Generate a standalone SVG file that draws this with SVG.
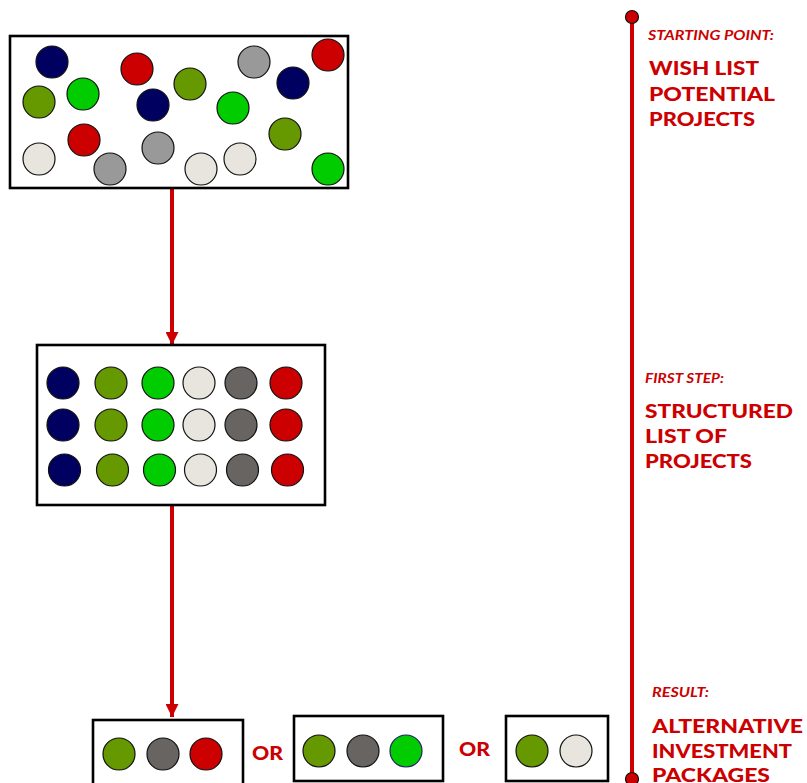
<svg xmlns="http://www.w3.org/2000/svg" width="807" height="783" viewBox="0 0 807 783">
<style>
.box{fill:#fff;stroke:#000;stroke-width:2.6}
circle{stroke:#111;stroke-width:1.2}
.nv{fill:#000060}
.ol{fill:#669900}
.gr{fill:#00CC00}
.lg{fill:#999999}
.wh{fill:#E8E5DF}
.dg{fill:#686462}
.rd{fill:#CC0000}
.lbl{font-family:Lato,"Liberation Sans",sans-serif;font-weight:bold;fill:#CC0000}
.sm{font-size:14px;font-style:italic}
.bg{font-size:19px;font-weight:900}
.conn{stroke:#CC0000;stroke-width:4;fill:none}
</style>
<defs>
<marker id="ah" viewBox="0 0 10 10" refX="10" refY="5" markerWidth="13" markerHeight="13" markerUnits="userSpaceOnUse" orient="auto">
<path d="M0,0 L10,5 L0,10 z" fill="#CC0000"/>
</marker>
</defs>

<g id="connectors">
<line class="conn" x1="172" y1="189" x2="172" y2="345" marker-end="url(#ah)"/>
<line class="conn" x1="172" y1="506" x2="172" y2="717" marker-end="url(#ah)"/>
</g>

<g id="timeline">
<line x1="632" y1="17" x2="632" y2="779" stroke="#CC0000" stroke-width="4"/>
<circle cx="632" cy="17" r="6.5" fill="#CC0000" stroke="none"/>
<circle cx="632" cy="779" r="6.5" fill="#CC0000" stroke="none"/>
</g>

<g id="wishlist">
<rect class="box" x="10" y="36" width="338" height="152"/>
<circle class="nv" cx="52" cy="62" r="16"/>
<circle class="ol" cx="39" cy="102" r="16"/>
<circle class="gr" cx="83" cy="94" r="16"/>
<circle class="rd" cx="137" cy="69" r="16"/>
<circle class="nv" cx="153" cy="105" r="16"/>
<circle class="ol" cx="190" cy="84" r="16"/>
<circle class="lg" cx="254" cy="62" r="16"/>
<circle class="nv" cx="293" cy="83" r="16"/>
<circle class="rd" cx="328" cy="55" r="16"/>
<circle class="gr" cx="233" cy="108" r="16"/>
<circle class="ol" cx="285" cy="134" r="16"/>
<circle class="gr" cx="328" cy="169" r="16"/>
<circle class="wh" cx="39" cy="159" r="16"/>
<circle class="rd" cx="84" cy="140" r="16"/>
<circle class="lg" cx="110" cy="169" r="16"/>
<circle class="lg" cx="158" cy="148" r="16"/>
<circle class="wh" cx="201" cy="169" r="16"/>
<circle class="wh" cx="240" cy="159" r="16"/>
</g>

<g id="structured">
<rect class="box" x="37" y="345" width="288" height="160"/>
<circle class="nv" cx="63" cy="383" r="16"/>
<circle class="ol" cx="111" cy="383" r="16"/>
<circle class="gr" cx="158" cy="383" r="16"/>
<circle class="wh" cx="199" cy="383" r="16"/>
<circle class="dg" cx="241" cy="383" r="16"/>
<circle class="rd" cx="286" cy="383" r="16"/>
<circle class="nv" cx="63" cy="425" r="16"/>
<circle class="ol" cx="111" cy="425" r="16"/>
<circle class="gr" cx="158" cy="425" r="16"/>
<circle class="wh" cx="199" cy="425" r="16"/>
<circle class="dg" cx="241" cy="425" r="16"/>
<circle class="rd" cx="286" cy="425" r="16"/>
<circle class="nv" cx="64.5" cy="470" r="16"/>
<circle class="ol" cx="112.5" cy="470" r="16"/>
<circle class="gr" cx="159.5" cy="470" r="16"/>
<circle class="wh" cx="200.5" cy="470" r="16"/>
<circle class="dg" cx="242.5" cy="470" r="16"/>
<circle class="rd" cx="287.5" cy="470" r="16"/>
</g>

<g id="package1">
<rect class="box" x="93" y="720" width="150" height="70"/>
<circle class="ol" cx="119" cy="754" r="16"/>
<circle class="dg" cx="163" cy="754" r="16"/>
<circle class="rd" cx="206" cy="754" r="16"/>
</g>
<text class="lbl bg" x="252" y="760" textLength="31" lengthAdjust="spacingAndGlyphs">OR</text>

<g id="package2">
<rect class="box" x="294" y="716" width="149" height="65"/>
<circle class="ol" cx="319" cy="751" r="16"/>
<circle class="dg" cx="363" cy="751" r="16"/>
<circle class="gr" cx="406" cy="751" r="16" style="stroke:#222266"/>
</g>
<text class="lbl bg" x="459" y="756" textLength="31" lengthAdjust="spacingAndGlyphs">OR</text>

<g id="package3">
<rect class="box" x="506" y="716" width="102" height="65"/>
<circle class="ol" cx="532" cy="751" r="16"/>
<circle class="wh" cx="576" cy="751" r="16"/>
</g>

<g id="label-start">
<text class="lbl sm" x="648" y="40" textLength="126" lengthAdjust="spacingAndGlyphs">STARTING POINT:</text>
<text class="lbl bg" x="649" y="75" textLength="110" lengthAdjust="spacingAndGlyphs">WISH LIST</text>
<text class="lbl bg" x="649" y="101" textLength="126" lengthAdjust="spacingAndGlyphs">POTENTIAL</text>
<text class="lbl bg" x="649" y="126" textLength="106" lengthAdjust="spacingAndGlyphs">PROJECTS</text>
</g>

<g id="label-first">
<text class="lbl sm" x="645" y="383" textLength="79" lengthAdjust="spacingAndGlyphs">FIRST STEP:</text>
<text class="lbl bg" x="645" y="418" textLength="148" lengthAdjust="spacingAndGlyphs">STRUCTURED</text>
<text class="lbl bg" x="645" y="443" textLength="82" lengthAdjust="spacingAndGlyphs">LIST OF</text>
<text class="lbl bg" x="645" y="468" textLength="107" lengthAdjust="spacingAndGlyphs">PROJECTS</text>
</g>

<g id="label-result">
<text class="lbl sm" x="652" y="697" textLength="57" lengthAdjust="spacingAndGlyphs">RESULT:</text>
<text class="lbl bg" x="652" y="733" textLength="151" lengthAdjust="spacingAndGlyphs">ALTERNATIVE</text>
<text class="lbl bg" x="652" y="758" textLength="140" lengthAdjust="spacingAndGlyphs">INVESTMENT</text>
<text class="lbl bg" x="652" y="782" textLength="118" lengthAdjust="spacingAndGlyphs">PACKAGES</text>
</g>
</svg>
